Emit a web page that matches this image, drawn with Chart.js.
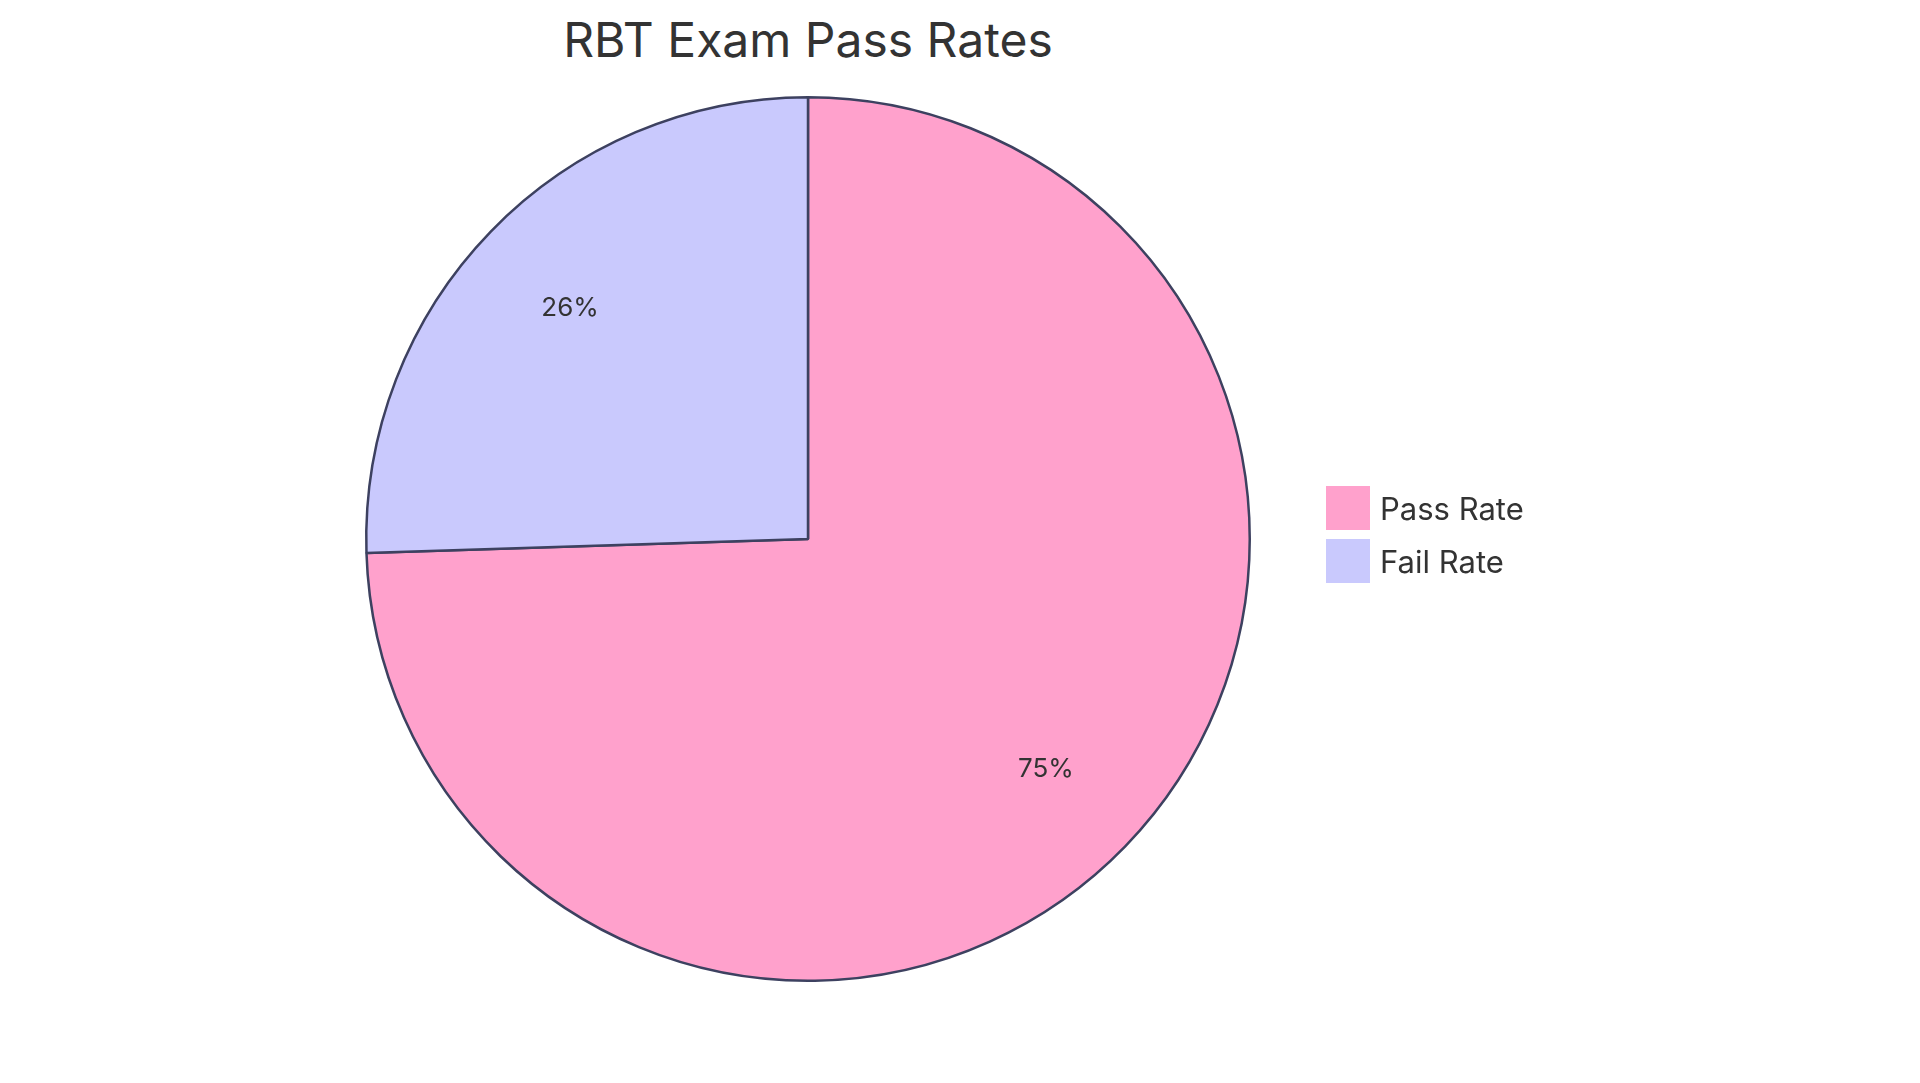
<!DOCTYPE html>
<html>
<head>
<meta charset="utf-8">
<script src="https://cdn.jsdelivr.net/npm/chart.js@4"></script>
<style>
  body { margin: 0; background: #fff; font-family: Inter, "Open Sans", sans-serif; color: #333; }
  #wrap { position: absolute; left: 0; top: 0; width: 1616px; height: 1083px; }
  #titulo { position: absolute; left: 0; width: 1616px; top: 10px; text-align: center; font-size: 48px; color: #333; }
  .leg { position: absolute; left: 1326px; display: flex; align-items: center; font-size: 31px; color: #333; }
  .leg span { display: inline-block; width: 44px; height: 44px; margin-right: 10px; }
</style>
</head>
<body>
<div id="titulo">RBT Exam Pass Rates</div>
<div id="wrap"><canvas id="grafico"></canvas></div>
<div class="leg" style="top:486px"><span style="background:#FFA1CC"></span>Pass Rate</div>
<div class="leg" style="top:539px"><span style="background:#C9C9FD"></span>Fail Rate</div>
<script>
// Dados do gráfico
const categorias = ['Pass Rate', 'Fail Rate'];
const valores = [74.5, 25.5];
const rotulos = ['75%', '26%'];
const cores = ['#FFA1CC', '#C9C9FD'];

// Rótulos percentuais dentro das fatias
const rotulosPlugin = {
    id: 'rotulos',
    afterDatasetsDraw(chart) {
        const ctx = chart.ctx;
        const meta = chart.getDatasetMeta(0);
        ctx.save();
        ctx.font = '26px Inter, "Open Sans", sans-serif';
        ctx.fillStyle = '#333';
        ctx.textAlign = 'center';
        ctx.textBaseline = 'middle';
        meta.data.forEach((arc, i) => {
            const meio = (arc.startAngle + arc.endAngle) / 2;
            const r = arc.outerRadius * 0.75;
            ctx.fillText(rotulos[i], arc.x + Math.cos(meio) * r, arc.y + Math.sin(meio) * r);
        });
        ctx.restore();
    }
};

new Chart(document.getElementById('grafico').getContext('2d'), {
    type: 'pie',
    data: {
        labels: categorias,
        datasets: [{
            data: valores,
            backgroundColor: cores,
            borderColor: '#3d4160',
            borderWidth: 2.5
        }]
    },
    options: {
        responsive: true,
        maintainAspectRatio: false,
        animation: false,
        layout: { padding: { top: 96, bottom: 101 } },
        plugins: {
            legend: { display: false },
            tooltip: { enabled: false }
        }
    },
    plugins: [rotulosPlugin]
});
</script>
</body>
</html>
